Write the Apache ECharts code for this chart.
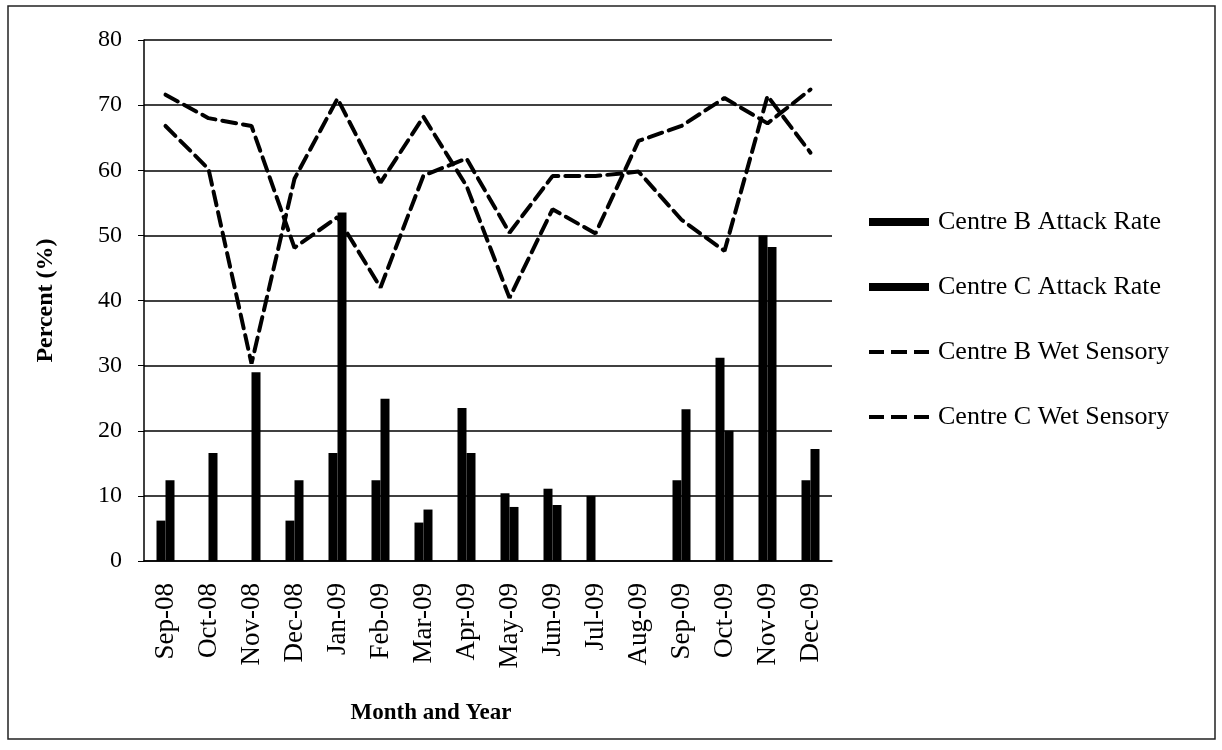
<!DOCTYPE html>
<html lang="en">
<head>
    <meta charset="UTF-8">
    <title>Attack rate and wet sensory</title>
    <script src="https://cdn.jsdelivr.net/npm/echarts@6.0.0/dist/echarts.min.js"></script>
    <style>
        html, body { margin: 0; padding: 0; background: #fff; }
        #chart { width: 1222px; height: 750px; }
    </style>
</head>
<body>
    <div id="chart"></div>
    <script>
        var months = ['Sep-08', 'Oct-08', 'Nov-08', 'Dec-08', 'Jan-09', 'Feb-09', 'Mar-09', 'Apr-09',
            'May-09', 'Jun-09', 'Jul-09', 'Aug-09', 'Sep-09', 'Oct-09', 'Nov-09', 'Dec-09'];

        var attackB = [6.2, 0, 0, 6.2, 16.6, 12.4, 5.9, 23.5, 10.4, 11.1, 10.0, 0, 12.4, 31.2, 50.0, 12.4];
        var attackC = [12.4, 16.6, 29.0, 12.4, 53.5, 24.9, 7.9, 16.6, 8.3, 8.6, 0, 0, 23.3, 20.0, 48.2, 17.2];

        var wetB = [71.6, 68.0, 66.8, 48.1, 52.8, 42.0, 59.2, 61.8, 50.4, 59.1, 59.1, 59.8, 52.4, 47.6, 71.4, 62.7];
        var wetC = [66.8, 60.2, 30.3, 58.7, 71.0, 58.1, 68.2, 57.6, 40.4, 54.0, 50.3, 64.5, 66.8, 71.1, 67.2, 72.4];

        var yTicks = { min: 0, max: 80, interval: 10 };

        var serif = '"Liberation Serif", "DejaVu Serif", serif';
        var chart = echarts.init(document.getElementById('chart'));

        var dashed = { color: '#000', width: 4, type: [14, 7], cap: 'round' };
        // three short dashes, like the legend keys in the original
        var dashIcon = 'path://M0,0h15v4h-15z M22,0h16v4h-16z M45,0h15v4h-15z';

        chart.setOption({
            animation: false,
            textStyle: { fontFamily: serif, color: '#000' },
            grid: { left: 144, right: 390, top: 40, bottom: 189 },
            legend: {
                orient: 'vertical',
                left: 864,
                top: 204,
                itemWidth: 60,
                itemHeight: 8,
                itemGap: 39,
                textStyle: { fontFamily: serif, fontSize: 26, color: '#000', padding: [0, 0, 0, 4] },
                data: [
                    { name: 'Centre B Attack Rate', icon: 'rect' },
                    { name: 'Centre C Attack Rate', icon: 'rect' },
                    { name: 'Centre B Wet Sensory', icon: dashIcon },
                    { name: 'Centre C Wet Sensory', icon: dashIcon }
                ]
            },
            xAxis: {
                type: 'category',
                data: months,
                axisLine: { lineStyle: { color: '#000', width: 1.5 } },
                axisTick: { show: false },
                axisLabel: {
                    rotate: 90,
                    margin: 22,
                    interval: 0,
                    fontFamily: serif,
                    fontSize: 27,
                    color: '#000'
                }
            },
            yAxis: {
                type: 'value',
                min: yTicks.min,
                max: yTicks.max,
                interval: yTicks.interval,
                name: 'Percent (%)',
                nameLocation: 'middle',
                nameGap: 86,
                nameTextStyle: { fontFamily: serif, fontSize: 24, fontWeight: 'bold', color: '#000' },
                axisLine: { show: true, lineStyle: { color: '#000', width: 1.5 } },
                axisTick: { show: true, length: 6, lineStyle: { color: '#000' } },
                axisLabel: { margin: 22, fontFamily: serif, fontSize: 24, color: '#000' },
                splitLine: { lineStyle: { color: '#000', width: 1.5 } }
            },
            series: [
                {
                    name: 'Centre B Attack Rate',
                    type: 'bar',
                    data: attackB,
                    barWidth: 9,
                    barGap: '0%',
                    itemStyle: { color: '#000' }
                },
                {
                    name: 'Centre C Attack Rate',
                    type: 'bar',
                    data: attackC,
                    barWidth: 9,
                    barGap: '0%',
                    itemStyle: { color: '#000' }
                },
                {
                    name: 'Centre B Wet Sensory',
                    type: 'line',
                    data: wetB,
                    symbol: 'none',
                    lineStyle: dashed,
                    itemStyle: { color: '#000' }
                },
                {
                    name: 'Centre C Wet Sensory',
                    type: 'line',
                    data: wetC,
                    symbol: 'none',
                    lineStyle: dashed,
                    itemStyle: { color: '#000' }
                }
            ],
            graphic: [
                {
                    type: 'rect',
                    shape: { x: 8, y: 6, width: 1207, height: 733 },
                    style: { fill: 'none', stroke: '#222', lineWidth: 1.5 }
                },
                {
                    type: 'text',
                    x: 431,
                    y: 713,
                    style: {
                        text: 'Month and Year',
                        fontFamily: serif,
                        fontSize: 23,
                        fontWeight: 'bold',
                        fill: '#000',
                        textAlign: 'center',
                        textVerticalAlign: 'middle'
                    }
                }
            ]
        });
    </script>
</body>
</html>
